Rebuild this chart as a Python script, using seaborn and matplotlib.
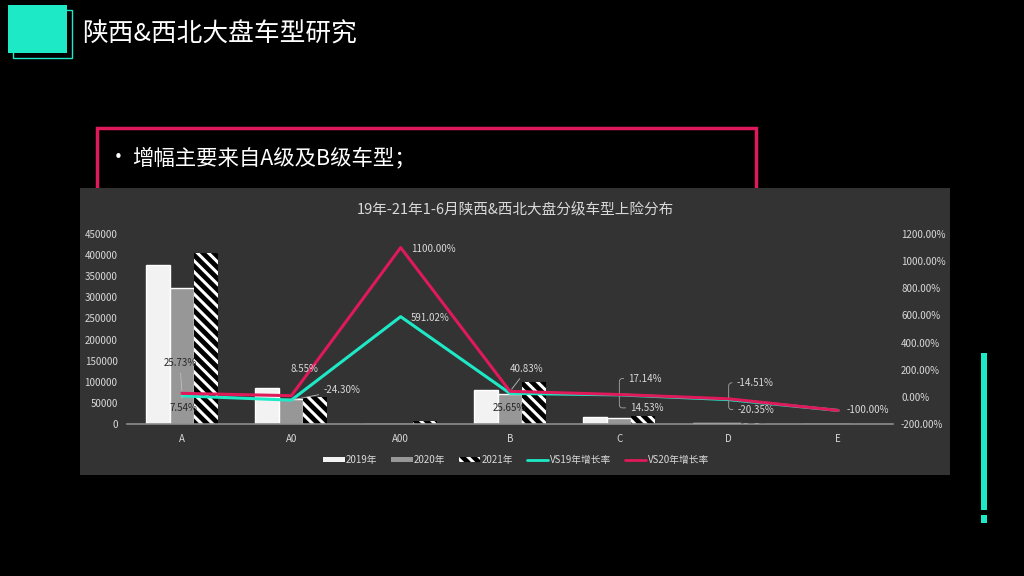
import numpy as np
import pandas as pd
import matplotlib
matplotlib.use('Agg')
import matplotlib.pyplot as plt
from matplotlib.patches import Rectangle, Patch
from matplotlib.lines import Line2D
import seaborn as sns

# data
categories = ['A', 'A0', 'A00', 'B', 'C', 'D', 'E']
sales_2019 = [377000, 85000, 900, 79586, 15716, 2400, 30]
sales_2020 = [322460, 59277, 518, 71007, 15366, 2236, 25]
sales_2021 = [405430, 64345, 6219, 100000, 18000, 1912, 0]
vs19 = [7.54, -24.30, 591.02, 25.65, 14.53, -20.35, -100.00]
vs20 = [25.73, 8.55, 1100.00, 40.83, 17.14, -14.51, -100.00]
years = ['2019年', '2020年', '2021年']

teal = '#1de9c6'
pink = '#e0195a'
panel = '#333333'
txt = '#d9d9d9'
dark = '#262626'

sns.set_style('dark')
plt.rcParams['font.family'] = ['Noto Sans CJK SC', 'DejaVu Sans']
plt.rcParams['hatch.linewidth'] = 2.2

fig = plt.figure(figsize=(10.24, 5.76), dpi=100)
fig.patch.set_facecolor('black')
W, H = 1024, 576


def box(x0, y0, x1, y1, **kw):
    # rectangle in pixel units, y measured from the top
    r = Rectangle((x0 / W, 1 - y1 / H), (x1 - x0) / W, (y1 - y0) / H,
                  transform=fig.transFigure, **kw)
    fig.patches.append(r)


# header decoration
box(13, 10, 72, 58, fc='none', ec=teal, lw=1, zorder=1)
box(8, 5, 67, 53, fc=teal, ec='none', zorder=2)
fig.text(82 / W, 1 - 35 / H, '陕西&西北大盘车型研究', color='white', fontsize=18.5,
         va='center', ha='left')

# pink note box and bullet text
box(97, 128, 756, 230, fc='none', ec=pink, lw=2.5, zorder=1)
fig.text(108 / W, 1 - 158 / H, '•', color='white', fontsize=15, va='center')
fig.text(132 / W, 1 - 158 / H, '增幅主要来自A级及B级车型；', color='white', fontsize=15.4,
         va='center')

# chart panel
box(80, 188, 950, 475, fc=panel, ec='none', zorder=3)
fig.text(515 / W, 1 - 210 / H, '19年-21年1-6月陕西&西北大盘分级车型上险分布',
         color=txt, fontsize=10.5, ha='center', va='center', zorder=4)

# right side accent
box(981, 353, 987, 510, fc=teal, ec='none')
box(981, 515, 987, 523, fc=teal, ec='none')

ax = fig.add_axes([127.3 / W, 1 - 424 / H, 765.4 / W, 190 / H], zorder=5)
ax.set_facecolor('none')

df = pd.DataFrame({
    'cat': categories * 3,
    'year': [y for y in years for _ in categories],
    'val': sales_2019 + sales_2020 + sales_2021,
})
sns.barplot(data=df, x='cat', y='val', hue='year', order=categories,
            palette=['#f2f2f2', '#979797', 'black'], width=0.66,
            saturation=1, legend=False, ax=ax)
for bar in ax.containers[2]:
    bar.set_hatch('\\\\\\')
    bar.set_edgecolor('white')
    bar.set_linewidth(0)

ax.set_ylim(0, 450000)
ax.set_yticks(np.arange(0, 450001, 50000))
ax.set_xlim(-0.5, 6.5)
ax.set_xlabel('')
ax.set_ylabel('')
ax.grid(False)
for s in ['top', 'right', 'left']:
    ax.spines[s].set_visible(False)
ax.spines['bottom'].set_color('#8c8c8c')
ax.spines['bottom'].set_linewidth(1.2)
ax.tick_params(axis='both', length=0, colors=txt, labelsize=7)
ax.tick_params(axis='x', pad=7)
ax.tick_params(axis='y', pad=7)

ax2 = ax.twinx()
ax2.set_facecolor('none')
xs = np.arange(len(categories))
sns.lineplot(x=xs, y=vs19, color=teal, lw=2.2, ax=ax2)
sns.lineplot(x=xs, y=vs20, color=pink, lw=2.2, ax=ax2)
ax2.set_ylim(-200, 1200)
ax2.set_yticks(np.arange(-200, 1201, 200))
ax2.set_yticklabels([f'{v:.2f}%' for v in np.arange(-200, 1201, 200)])
ax2.grid(False)
for s in ax2.spines.values():
    s.set_visible(False)
ax2.tick_params(axis='y', length=0, colors=txt, labelsize=7, pad=6)

# data labels: (offset x px, offset y px, ha, leader style, text colour)
lab20 = [(-2, 30, 'center', 'line', dark), (13, 27, 'center', None, txt),
         (10, -1, 'left', None, txt), (17, 22, 'center', 'line', txt),
         (9, 16, 'left', 'brace', txt), (8, 16, 'left', 'brace', txt),
         (9, 0, 'left', None, txt)]
lab19 = [(1, -12, 'center', 'line', dark), (32, 10, 'left', 'line', txt),
         (10, -1, 'left', None, txt), (-1, -15, 'center', None, dark),
         (11, -13, 'left', 'brace', txt), (9, -10, 'left', 'brace', txt),
         None]
for vals, labs in [(vs20, lab20), (vs19, lab19)]:
    for i, (v, lab) in enumerate(zip(vals, labs)):
        if lab is None:
            continue
        dx, dy, ha, lead, col = lab
        arrow = None
        if lead == 'line':
            arrow = dict(arrowstyle='-', color='#bfbfbf', lw=0.6, shrinkA=1, shrinkB=2)
        elif lead == 'brace':
            arrow = dict(arrowstyle='-', color='#a6a6a6', lw=0.6, shrinkA=1, shrinkB=1,
                         connectionstyle='angle,angleA=0,angleB=90,rad=3')
        ax2.annotate(f'{v:.2f}%', xy=(i, v), xytext=(dx, dy), textcoords='offset pixels',
                     ha=ha, va='center', fontsize=7, color=col, arrowprops=arrow)

handles = [
    Patch(fc='#f2f2f2', ec='none', label='2019年'),
    Patch(fc='#979797', ec='none', label='2020年'),
    Patch(fc='black', ec='white', lw=0, hatch='\\\\\\', label='2021年'),
    Line2D([], [], color=teal, lw=2, label='VS19年增长率'),
    Line2D([], [], color=pink, lw=2, label='VS20年增长率'),
]
leg = fig.legend(handles=handles, loc='center', bbox_to_anchor=(516 / W, 1 - 460 / H),
                 ncol=5, frameon=False, fontsize=7, handlelength=2.2, handleheight=0.55,
                 handletextpad=0.15, columnspacing=1.4)
for t in leg.get_texts():
    t.set_color(txt)
leg.set_zorder(6)

fig.savefig('out.png', dpi=100, facecolor='black')
